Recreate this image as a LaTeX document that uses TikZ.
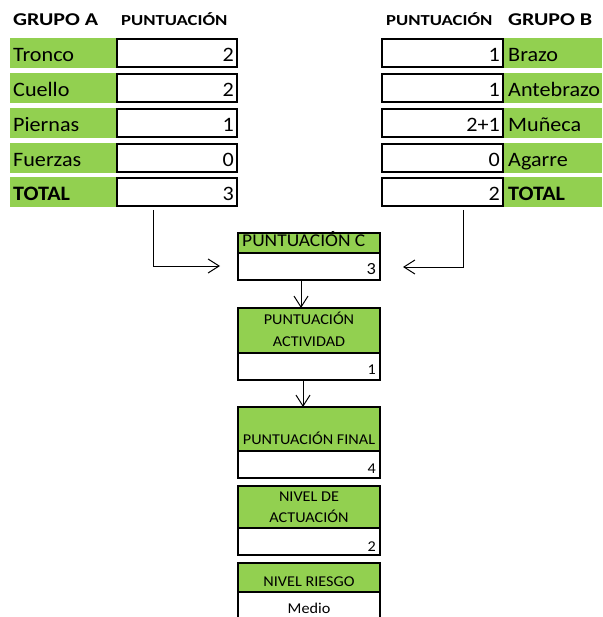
\documentclass[tikz,border=0pt]{standalone}
\usepackage{fontspec}
\setmainfont{Carlito}[FakeStretch=1.08]
\newfontfamily\headfont{Carlito}[FakeStretch=1.22]
\usetikzlibrary{arrows.meta}
\definecolor{cellgreen}{RGB}{146,208,80}
\begin{document}
\begin{tikzpicture}[x=1pt,y=-1pt,
  greencell/.style={fill=cellgreen, inner sep=0pt, outer sep=0pt, anchor=north west},
  valbox/.style={draw=black, line width=2pt, fill=white, inner sep=0pt, outer sep=0pt, anchor=north west},
  headbox/.style={draw=black, line width=2pt, fill=cellgreen, inner sep=0pt, outer sep=0pt, anchor=north west},
  rowtext/.style={inner sep=0pt, font=\fontsize{20.5}{20.5}\selectfont},
  grouptext/.style={inner sep=0pt, anchor=base west, font=\headfont\fontsize{18}{18}\selectfont\bfseries},
  coltext/.style={inner sep=0pt, anchor=base west, font=\headfont\fontsize{15.3}{15.3}\selectfont\bfseries},
  boxtext/.style={inner sep=0pt, font=\fontsize{15}{15}\selectfont},
  conn/.style={line width=1pt, -{Straight Barb[length=11pt,width=14pt,line width=1pt]}},
]
\useasboundingbox (0,0) rectangle (602,617);

% column headings
\node[grouptext] (ga) at (13,26) {GRUPO A};
\node[coltext] (pa) at (121,26) {PUNTUACIÓN};
\node[coltext] (pb) at (386,26) {PUNTUACIÓN};
\node[grouptext] (gb) at (508,26) {GRUPO B};

% group A rows: label cell and score box
\foreach \i/\top/\lab/\val in {1/38/Tronco/2, 2/73/Cuello/2, 3/108/Piernas/1, 4/143/Fuerzas/0, 5/177/{\textbf{TOTAL}}/3}{
  \node[greencell, minimum width=106pt, minimum height=30pt] (la\i) at (10,\top) {};
  \node[valbox, minimum width=120pt, minimum height=28pt] (va\i) at (117,\top+1) {};
  \node[rowtext, anchor=base west] (tla\i) at (13,\top+24) {\lab};
  \node[rowtext, anchor=base east] (tva\i) at (234,\top+24) {\val};
}

% group B rows: score box and label cell
\foreach \i/\top/\lab/\val in {1/38/Brazo/1, 2/73/Antebrazo/1, 3/108/Muñeca/2+1, 4/143/Agarre/0, 5/177/{\textbf{TOTAL}}/2}{
  \node[greencell, minimum width=98pt, minimum height=30pt] (lb\i) at (504,\top) {};
  \node[valbox, minimum width=121pt, minimum height=28pt] (vb\i) at (382,\top+1) {};
  \node[rowtext, anchor=base west] (tlb\i) at (508,\top+24) {\lab};
  \node[rowtext, anchor=base east] (tvb\i) at (500,\top+24) {\val};
}

% score C
\node[headbox, minimum width=142pt, minimum height=20pt] (ch) at (238,233) {};
\node[valbox, minimum width=142pt, minimum height=27pt] (cv) at (238,253) {};
\node[inner sep=0pt, anchor=base west, font=\fontsize{18}{18}\selectfont] (cht) at (242,247) {PUNTUACIÓN C};
\node[inner sep=0pt, anchor=base east, font=\fontsize{17}{17}\selectfont] (cvt) at (376,274) {3};

% activity score
\node[headbox, minimum width=142pt, minimum height=45pt] (ah) at (238,308) {};
\node[valbox, minimum width=142pt, minimum height=27pt] (av) at (238,353) {};
\node[boxtext, anchor=base] (aht1) at (309,324) {PUNTUACIÓN};
\node[boxtext, anchor=base] (aht2) at (309,346) {ACTIVIDAD};
\node[boxtext, anchor=base east] (avt) at (376,374) {1};

% final score
\node[headbox, minimum width=142pt, minimum height=44pt] (fh) at (238,407) {};
\node[valbox, minimum width=142pt, minimum height=27pt] (fv) at (238,451) {};
\node[boxtext, anchor=base] (fht) at (309,444) {PUNTUACIÓN FINAL};
\node[boxtext, anchor=base east] (fvt) at (376,473) {4};

% action level
\node[headbox, minimum width=142pt, minimum height=42pt] (nh) at (238,486) {};
\node[valbox, minimum width=142pt, minimum height=27pt] (nv) at (238,528) {};
\node[boxtext, anchor=base] (nht1) at (309,501) {NIVEL DE};
\node[boxtext, anchor=base] (nht2) at (309,522) {ACTUACIÓN};
\node[boxtext, anchor=base east] (nvt) at (376,551) {2};

% risk level (open at the bottom)
\node[headbox, minimum width=142pt, minimum height=29pt] (rh) at (238,563) {};
\draw[line width=2pt] (rh.south west) -- (238,618) (rh.south east) -- (380,618);
\node[boxtext, anchor=base] (rht) at (309,586) {NIVEL RIESGO};
\node[boxtext, anchor=base] (rvt) at (309,613) {Medio};

% connectors
\coordinate (sa) at (153,210);
\coordinate (ea) at (220,266);
\coordinate (sb) at (463,210);
\coordinate (eb) at (403,267);
\draw[conn] (sa) |- (ea);
\draw[conn] (sb) |- (eb);
\draw[conn] ([xshift=-8pt]cv.south) -- ([xshift=-8pt]ah.north);
\draw[conn] ([xshift=-6pt]av.south) -- ([xshift=-6pt]fh.north);
\end{tikzpicture}
\end{document}
